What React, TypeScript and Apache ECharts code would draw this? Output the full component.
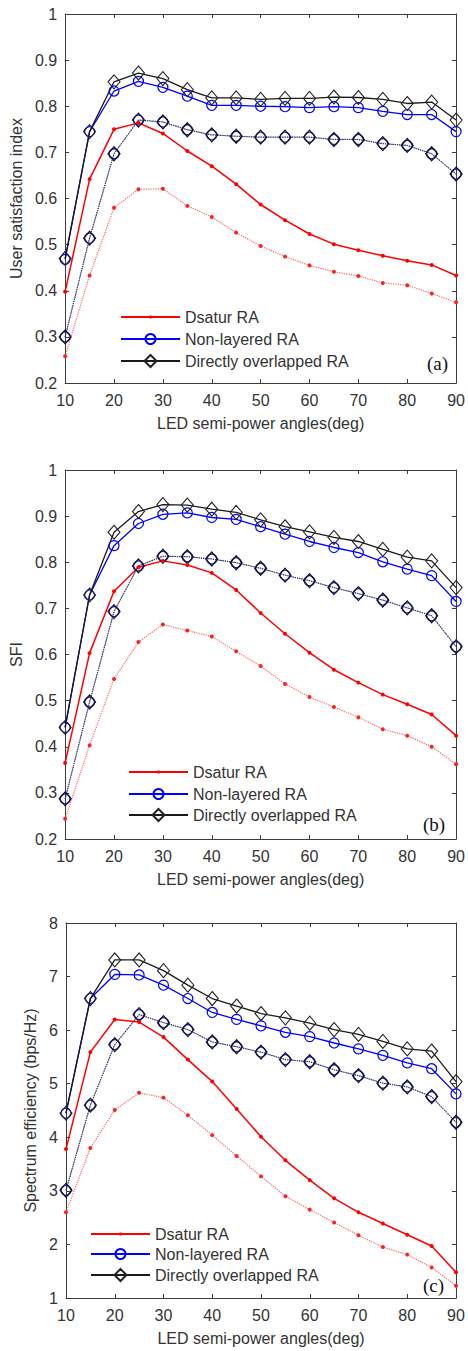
import React, { useEffect, useRef } from 'react';
import * as echarts from 'echarts';

// LED semi-power angles (deg)
const angles = [10, 15, 20, 25, 30, 35, 40, 45, 50, 55, 60, 65, 70, 75, 80, 85, 90];

const seriesNames = ['Dsatur RA', 'Non-layered RA', 'Directly overlapped RA'];

// (a) User satisfaction index
const dsaturA = [0.398, 0.642, 0.750, 0.764, 0.741, 0.703, 0.670, 0.631, 0.587, 0.553, 0.523, 0.501, 0.488, 0.476, 0.465, 0.456, 0.433];
const dsaturDotA = [0.258, 0.433, 0.580, 0.620, 0.621, 0.584, 0.560, 0.526, 0.497, 0.474, 0.455, 0.441, 0.432, 0.417, 0.412, 0.394, 0.375];
const nonLayeredA = [0.468, 0.745, 0.833, 0.854, 0.841, 0.822, 0.802, 0.802, 0.800, 0.799, 0.797, 0.799, 0.797, 0.789, 0.782, 0.782, 0.745];
const directA = [0.470, 0.745, 0.853, 0.872, 0.860, 0.836, 0.818, 0.818, 0.815, 0.817, 0.817, 0.820, 0.819, 0.815, 0.806, 0.809, 0.770];
const sharedDotA = [0.300, 0.514, 0.697, 0.770, 0.766, 0.749, 0.738, 0.735, 0.733, 0.733, 0.733, 0.728, 0.728, 0.719, 0.715, 0.697, 0.653];

// (b) SFI
const dsaturB = [0.365, 0.603, 0.737, 0.789, 0.803, 0.794, 0.777, 0.740, 0.690, 0.645, 0.604, 0.567, 0.539, 0.513, 0.492, 0.470, 0.424];
const dsaturDotB = [0.244, 0.403, 0.547, 0.627, 0.665, 0.652, 0.639, 0.607, 0.575, 0.536, 0.508, 0.486, 0.464, 0.438, 0.424, 0.400, 0.362];
const nonLayeredB = [0.442, 0.729, 0.836, 0.884, 0.904, 0.907, 0.897, 0.893, 0.877, 0.861, 0.845, 0.832, 0.821, 0.801, 0.785, 0.771, 0.715];
const directB = [0.442, 0.729, 0.865, 0.910, 0.925, 0.924, 0.915, 0.908, 0.892, 0.877, 0.866, 0.854, 0.845, 0.828, 0.811, 0.803, 0.745];
const sharedDotB = [0.287, 0.497, 0.693, 0.792, 0.813, 0.812, 0.807, 0.799, 0.787, 0.772, 0.760, 0.745, 0.732, 0.718, 0.701, 0.684, 0.617];

// (c) Spectrum efficiency (bps/Hz)
const dsaturC = [3.78, 5.59, 6.20, 6.15, 5.87, 5.45, 5.04, 4.53, 4.01, 3.57, 3.20, 2.86, 2.60, 2.39, 2.18, 1.97, 1.48];
const dsaturDotC = [2.60, 3.80, 4.51, 4.83, 4.74, 4.41, 4.04, 3.65, 3.27, 2.90, 2.65, 2.41, 2.17, 1.95, 1.81, 1.57, 1.23];
const nonLayeredC = [4.45, 6.59, 7.04, 7.03, 6.84, 6.59, 6.33, 6.20, 6.08, 5.96, 5.88, 5.76, 5.65, 5.53, 5.39, 5.28, 4.81];
const directC = [4.45, 6.59, 7.31, 7.31, 7.11, 6.84, 6.59, 6.45, 6.31, 6.23, 6.13, 6.01, 5.92, 5.79, 5.65, 5.61, 5.04];
const sharedDotC = [3.01, 4.60, 5.73, 6.29, 6.14, 6.01, 5.78, 5.69, 5.59, 5.45, 5.41, 5.26, 5.15, 5.01, 4.94, 4.76, 4.28];

const yTitles = ['User satisfaction index', 'SFI', 'Spectrum efficiency (bps/Hz)'];
const xTitle = 'LED semi-power angles(deg)';
const panelTags = ['(a)', '(b)', '(c)'];

const FONT = '"Liberation Sans", Arial, sans-serif';
const TXT = '#333333';
const AXIS = '#3c3c3c';

const pairs = (vals: number[]) => angles.map((a, i) => [a, vals[i]]);

const panels = [
  { ds: dsaturA, dsDot: dsaturDotA, nl: nonLayeredA, dr: directA, dot: sharedDotA, yMin: 0.2, yMax: 1, yInt: 0.1 },
  { ds: dsaturB, dsDot: dsaturDotB, nl: nonLayeredB, dr: directB, dot: sharedDotB, yMin: 0.2, yMax: 1, yInt: 0.1 },
  { ds: dsaturC, dsDot: dsaturDotC, nl: nonLayeredC, dr: directC, dot: sharedDotC, yMin: 1, yMax: 8, yInt: 1 },
];

// layout
const grids = [
  { left: 61, right: 9, top: 14, height: 369 },
  { left: 62, right: 9, top: 470, height: 369 },
  { left: 66, right: 12, top: 923, height: 375 },
];
const yNameGaps = [38, 39, 22];
const legendLayout = [
  { left: 120, centers: [317, 339, 361] },
  { left: 128, centers: [772, 794, 815] },
  { left: 90, centers: [1234, 1254, 1275] },
];
const tagPos = [
  { x: 427, y: 354 },
  { x: 423, y: 815 },
  { x: 423, y: 1276 },
];

function buildOption() {
  const xAxis: any[] = [];
  const yAxis: any[] = [];
  const series: any[] = [];
  const legend: any[] = [];
  const graphic: any[] = [];

  panels.forEach((p, i) => {
    const tick = { show: true, inside: true, length: 4, lineStyle: { color: AXIS, width: 1 } };
    const line = { show: true, onZero: false, lineStyle: { color: AXIS, width: 1 } };
    xAxis.push({
      type: 'value', gridIndex: i, position: 'bottom', min: 10, max: 90, interval: 10,
      axisLine: line, axisTick: tick, splitLine: { show: false },
      axisLabel: { fontSize: 16, color: TXT, fontFamily: FONT, margin: 9 },
      name: xTitle, nameLocation: 'middle', nameGap: 32,
      nameTextStyle: { fontSize: 16, color: TXT, fontFamily: FONT },
    });
    xAxis.push({
      type: 'value', gridIndex: i, position: 'top', min: 10, max: 90, interval: 10,
      axisLine: line, axisTick: tick, splitLine: { show: false }, axisLabel: { show: false },
    });
    yAxis.push({
      type: 'value', gridIndex: i, position: 'left', min: p.yMin, max: p.yMax, interval: p.yInt,
      axisLine: line, axisTick: tick, splitLine: { show: false },
      axisLabel: { fontSize: 16, color: TXT, fontFamily: FONT, margin: 8 },
      name: yTitles[i], nameLocation: 'middle', nameGap: yNameGaps[i],
      nameTextStyle: { fontSize: 16, color: TXT, fontFamily: FONT },
    });
    yAxis.push({
      type: 'value', gridIndex: i, position: 'right', min: p.yMin, max: p.yMax, interval: p.yInt,
      axisLine: line, axisTick: tick, splitLine: { show: false }, axisLabel: { show: false },
    });

    const ax = { xAxisIndex: 2 * i, yAxisIndex: 2 * i };
    const base = { type: 'line', ...ax, animation: false, emphasis: { disabled: true } };
    series.push(
      {
        ...base, name: 'Dsatur RA dotted', data: pairs(p.dsDot), symbol: 'circle', symbolSize: 4,
        itemStyle: { color: '#ff2020' }, lineStyle: { color: '#ff6060', width: 1.2, type: 'dotted' },
      },
      {
        ...base, name: 'Non-layered RA dotted', data: pairs(p.dot), symbol: 'circle', symbolSize: 10,
        itemStyle: { color: 'rgba(0,0,0,0)', borderColor: '#2020b0', borderWidth: 1.4 },
        lineStyle: { color: '#4848a8', width: 1.2, type: 'dotted' },
      },
      {
        ...base, name: 'Directly overlapped RA dotted', data: pairs(p.dot), symbol: 'diamond', symbolSize: [12, 14],
        itemStyle: { color: 'rgba(0,0,0,0)', borderColor: '#101030', borderWidth: 1.2 },
        lineStyle: { color: '#303040', width: 1, type: 'dotted' },
      },
      {
        ...base, name: seriesNames[0], data: pairs(p.ds), symbol: 'circle', symbolSize: 4,
        itemStyle: { color: '#ff0000' }, lineStyle: { color: '#ff0000', width: 1.5 },
      },
      {
        ...base, name: seriesNames[1], data: pairs(p.nl), symbol: 'circle', symbolSize: 10,
        itemStyle: { color: 'rgba(0,0,0,0)', borderColor: '#0000ff', borderWidth: 1.2 },
        lineStyle: { color: '#0000ff', width: 1.3 },
      },
      {
        ...base, name: seriesNames[2], data: pairs(p.dr), symbol: 'diamond', symbolSize: [12, 14],
        itemStyle: { color: 'rgba(0,0,0,0)', borderColor: '#222222', borderWidth: 1.1 },
        lineStyle: { color: '#1a1a1a', width: 1.3 },
      }
    );

    const lg = legendLayout[i];
    const heights = [4, 12.5, 15];
    seriesNames.forEach((n, k) => {
      legend.push({
        data: [n], left: lg.left, top: lg.centers[k] - 8, orient: 'vertical', padding: 0,
        itemWidth: 59, itemHeight: heights[k], selectedMode: false,
        textStyle: { fontSize: 16, color: TXT, fontFamily: FONT },
      });
    });

    graphic.push({
      type: 'text', left: tagPos[i].x, top: tagPos[i].y,
      style: { text: panelTags[i], font: '19px "Liberation Serif", "Times New Roman", serif', fill: '#111' },
    });
  });

  return {
    animation: false,
    backgroundColor: '#ffffff',
    grid: grids.map((g) => ({ ...g, containLabel: false })),
    xAxis, yAxis, series, legend, graphic,
  };
}

export default function App() {
  const ref = useRef<HTMLDivElement>(null);
  useEffect(() => {
    if (!ref.current) return;
    const chart = echarts.init(ref.current, undefined, { renderer: 'svg' });
    chart.setOption(buildOption() as any);
    return () => chart.dispose();
  }, []);
  return (
    <div
      ref={ref}
      style={{ position: 'absolute', left: 0, top: 0, width: 468, height: 1351, background: '#fff' }}
    />
  );
}
